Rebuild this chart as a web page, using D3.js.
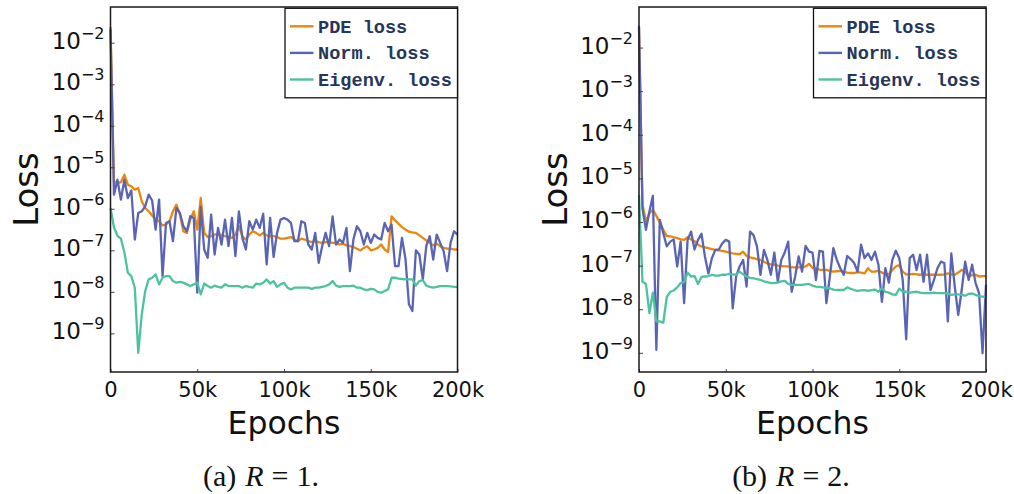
<!DOCTYPE html>
<html>
<head>
<meta charset="utf-8">
<script src="https://cdn.jsdelivr.net/npm/d3@7"></script>
<style>
  html, body { margin: 0; padding: 0; background: #fff; }
  svg { display: block; }
</style>
</head>
<body>
<svg id="chart" width="1014" height="494"></svg>
<script>
// Training epochs at which the losses were logged
const epochs = d3.range(0, 200001, 2000);

// log10 of each loss, run (a) R = 1
const pdeLogA = [
  -1.62, -5.35, -5.38, -5.36, -5.18, -5.42, -5.46, -5.54, -5.50, -5.82,
  -5.98, -6.06, -6.16, -6.26, -6.30, -6.40, -6.38, -6.30, -6.06, -5.90,
  -6.14, -6.54, -6.58, -6.26, -6.06, -6.50, -5.74, -6.58, -6.68, -6.66,
  -6.62, -6.60, -6.64, -6.66, -6.68, -6.70, -6.62, -6.42, -6.66, -6.74,
  -6.62, -6.54, -6.58, -6.64, -6.58, -6.64, -6.66, -6.66, -6.68, -6.72,
  -6.72, -6.70, -6.68, -6.74, -6.78, -6.72, -6.74, -6.78, -6.80, -6.78,
  -6.80, -6.82, -6.80, -6.80, -6.82, -6.82, -6.86, -6.84, -6.88, -6.90,
  -6.92, -6.96, -7.00, -6.94, -6.90, -7.00, -6.98, -6.94, -6.86, -6.98,
  -7.04, -6.18, -6.28, -6.36, -6.44, -6.50, -6.55, -6.57, -6.58, -6.64,
  -6.70, -6.76, -6.82, -6.88, -6.84, -6.90, -6.94, -6.96, -6.96, -6.98,
  -6.98
];
const normLogA = [
  -1.68, -5.66, -5.30, -5.78, -5.30, -5.74, -5.56, -6.74, -6.10, -6.06,
  -5.94, -5.66, -5.80, -6.50, -5.78, -7.62, -6.34, -6.30, -6.78, -5.98,
  -6.10, -6.42, -6.54, -6.18, -6.22, -8.02, -5.95, -6.98, -7.18, -6.14,
  -7.10, -6.46, -6.86, -6.26, -6.90, -6.22, -7.14, -6.06, -6.70, -6.98,
  -6.30, -6.50, -6.26, -6.46, -6.12, -7.34, -6.22, -7.16, -6.58, -6.26,
  -6.22, -6.26, -6.34, -6.78, -6.78, -6.30, -6.34, -6.86, -6.98, -6.58,
  -7.30, -6.90, -6.58, -6.90, -6.18, -6.86, -6.74, -6.82, -6.46, -7.50,
  -6.74, -6.42, -6.54, -6.86, -6.58, -6.82, -6.62, -6.70, -6.74, -6.34,
  -6.54, -6.38, -7.38, -7.38, -6.70, -7.20, -8.30, -8.46, -7.00, -7.10,
  -7.70, -6.90, -6.66, -7.22, -6.62, -6.82, -7.02, -7.50, -6.82, -6.54,
  -6.62
];
const eigLogA = [
  -5.98, -6.45, -6.65, -6.72, -7.05, -7.54, -7.62, -7.90, -9.47, -8.55,
  -7.98, -7.70, -7.66, -7.58, -7.82, -7.66, -7.62, -7.62, -7.74, -7.78,
  -7.76, -7.78, -7.82, -7.86, -7.82, -7.78, -8.06, -7.80, -7.86, -7.90,
  -7.85, -7.88, -7.90, -7.82, -7.86, -7.86, -7.86, -7.86, -7.90, -7.86,
  -7.88, -7.90, -7.80, -7.82, -7.78, -7.70, -7.80, -7.74, -7.88, -7.82,
  -7.78, -7.90, -7.94, -7.90, -7.90, -7.90, -7.90, -7.90, -7.93, -7.90,
  -7.90, -7.88, -7.86, -7.82, -7.74, -7.85, -7.88, -7.86, -7.86, -7.86,
  -7.85, -7.90, -7.90, -7.94, -7.96, -7.93, -7.94, -8.00, -8.02, -7.98,
  -7.94, -7.66, -7.66, -7.68, -7.69, -7.70, -7.70, -7.70, -7.85, -7.74,
  -7.72, -7.85, -7.88, -7.90, -7.88, -7.86, -7.86, -7.86, -7.87, -7.88,
  -7.88
];

// log10 of each loss, run (b) R = 2
const pdeLogB = [
  -1.55, -5.60, -5.99, -5.80, -5.72, -5.86, -6.02, -6.18, -6.32, -6.33,
  -6.35, -6.37, -6.40, -6.41, -6.35, -6.40, -6.44, -6.52, -6.56, -6.58,
  -6.60, -6.62, -6.64, -6.65, -6.66, -6.68, -6.70, -6.72, -6.73, -6.74,
  -6.68, -6.78, -6.81, -6.83, -6.85, -6.87, -6.91, -6.95, -6.97, -6.98,
  -7.00, -7.01, -7.02, -7.02, -7.04, -7.04, -7.04, -7.04, -7.02, -6.96,
  -7.05, -7.07, -7.09, -7.10, -7.10, -7.12, -7.14, -7.13, -7.12, -7.14,
  -7.16, -7.17, -7.17, -7.15, -7.16, -7.18, -7.06, -7.14, -7.14, -7.12,
  -7.16, -7.20, -7.20, -7.10, -7.02, -6.99, -7.14, -7.20, -7.20, -7.19,
  -7.20, -7.21, -7.20, -7.21, -7.21, -7.21, -7.21, -7.21, -7.20, -7.18,
  -7.20, -7.21, -7.16, -7.10, -7.14, -7.25, -7.22, -7.21, -7.25, -7.24,
  -7.24
];
const normLogB = [
  -1.50, -5.70, -6.18, -5.76, -5.40, -8.93, -5.95, -6.26, -6.56, -6.45,
  -6.40, -7.02, -6.45, -7.86, -6.41, -6.22, -6.63, -6.41, -6.27, -6.79,
  -7.18, -6.83, -6.64, -6.63, -6.49, -6.41, -6.45, -7.98, -7.25, -7.02,
  -6.87, -7.48, -6.22, -6.30, -6.56, -7.21, -6.64, -6.87, -7.21, -6.70,
  -7.37, -6.87, -6.70, -6.45, -7.60, -7.25, -6.79, -7.14, -6.55, -6.68,
  -6.70, -7.33, -6.66, -6.68, -7.86, -7.25, -6.60, -6.87, -7.06, -7.21,
  -6.78, -6.85, -6.94, -7.14, -6.52, -6.83, -6.72, -6.87, -6.68, -6.98,
  -7.83, -7.06, -7.39, -6.87, -6.66, -6.83, -7.33, -8.69, -6.83, -6.75,
  -7.10, -6.75, -7.37, -6.75, -7.56, -7.33, -7.06, -6.91, -6.94, -8.28,
  -6.72, -7.48, -8.13, -7.56, -6.91, -7.33, -6.98, -7.40, -7.63, -9.01,
  -7.44
];
const eigLogB = [
  -5.38, -7.37, -7.42, -8.09, -7.62, -8.28, -8.28, -8.31, -7.72, -7.60,
  -7.57, -7.50, -7.40, -7.38, -7.16, -7.25, -7.24, -7.42, -7.26, -7.25,
  -7.24, -7.21, -7.23, -7.23, -7.21, -7.21, -7.19, -7.20, -7.21, -7.14,
  -7.20, -7.25, -7.28, -7.29, -7.31, -7.33, -7.36, -7.38, -7.40, -7.40,
  -7.39, -7.36, -7.35, -7.42, -7.44, -7.44, -7.44, -7.44, -7.43, -7.42,
  -7.46, -7.48, -7.49, -7.50, -7.51, -7.52, -7.55, -7.56, -7.56, -7.56,
  -7.50, -7.53, -7.56, -7.58, -7.57, -7.56, -7.58, -7.56, -7.55, -7.60,
  -7.52, -7.60, -7.62, -7.66, -7.67, -7.53, -7.60, -7.60, -7.62, -7.61,
  -7.60, -7.62, -7.63, -7.63, -7.63, -7.62, -7.63, -7.63, -7.63, -7.64,
  -7.67, -7.66, -7.66, -7.67, -7.69, -7.65, -7.64, -7.67, -7.70, -7.71,
  -7.72
];

// Axis ticks and legend text
const yTickExponents = [-2, -3, -4, -5, -6, -7, -8, -9];
const xTickValues = [0, 50000, 100000, 150000, 200000];
const xTickLabels = ["0", "50k", "100k", "150k", "200k"];
const seriesNames = ["PDE loss", "Norm. loss", "Eigenv. loss"];
const seriesColors = ["#ea870a", "#5a64b4", "#4dc29f"];

const panels = [
  { left: 110.5, right: 457.5, top: 7, bottom: 372, logLo: -9.93, logHi: -1.14,
    logs: [pdeLogA, normLogA, eigLogA], tag: "(a)", rValue: "1", lossX: 38, captionX: 261 },
  { left: 639, right: 986, top: 7, bottom: 372, logLo: -9.44, logHi: -1.07,
    logs: [pdeLogB, normLogB, eigLogB], tag: "(b)", rValue: "2", lossX: 567, captionX: 791 }
];

const svg = d3.select("#chart");
svg.append("rect").attr("width", 1014).attr("height", 494).attr("fill", "#fff");

const axisFont = "'DejaVu Sans', Verdana, sans-serif";

panels.forEach(p => {
  const x = d3.scaleLinear().domain([0, 200000]).range([p.left, p.right]);
  const y = d3.scaleLog().domain([10 ** p.logLo, 10 ** p.logHi]).range([p.bottom, p.top]);
  const g = svg.append("g");

  // loss curves
  const line = d3.line()
    .x((d, i) => x(epochs[i]))
    .y(d => y(10 ** d));
  p.logs.forEach((vals, k) => {
    g.append("path")
      .datum(vals)
      .attr("d", line)
      .attr("fill", "none")
      .attr("stroke", seriesColors[k])
      .attr("stroke-width", 2.3)
      .attr("stroke-linejoin", "round");
  });

  // left axis: decade ticks with 10^n labels
  const yAxis = d3.axisLeft(y)
    .tickValues(yTickExponents.map(e => 10 ** e))
    .tickSizeInner(-4).tickSizeOuter(0).tickPadding(6);
  const ya = g.append("g").attr("transform", `translate(${p.left},0)`).call(yAxis);
  ya.select(".domain").remove();
  ya.selectAll(".tick line").attr("stroke", "#444").attr("stroke-width", 1);
  ya.selectAll(".tick text")
    .attr("font-family", axisFont).attr("font-size", 23).attr("fill", "#111")
    .attr("dy", "0.24em")
    .each(function(d, i) {
      const t = d3.select(this);
      t.text(null);
      t.append("tspan").text("10");
      t.append("tspan").attr("dy", -10).attr("font-size", 16)
        .text("\u2212" + (-yTickExponents[i]));
    });

  // bottom axis
  const xAxis = d3.axisBottom(x)
    .tickValues(xTickValues)
    .tickFormat((d, i) => xTickLabels[i])
    .tickSizeInner(-3).tickSizeOuter(0).tickPadding(10);
  const xa = g.append("g").attr("transform", `translate(0,${p.bottom})`).call(xAxis);
  xa.select(".domain").remove();
  xa.selectAll(".tick line").attr("stroke", "#444").attr("stroke-width", 1);
  xa.selectAll(".tick text")
    .attr("font-family", axisFont).attr("font-size", 21).attr("fill", "#111");

  // frame
  g.append("rect")
    .attr("x", p.left).attr("y", p.top)
    .attr("width", p.right - p.left).attr("height", p.bottom - p.top)
    .attr("fill", "none").attr("stroke", "#1a1a1a").attr("stroke-width", 1.5);

  // axis titles
  g.append("text")
    .attr("transform", `translate(${p.lossX},${(p.top + p.bottom) / 2}) rotate(-90)`)
    .attr("text-anchor", "middle")
    .attr("font-family", axisFont).attr("font-size", 34).attr("fill", "#111")
    .text("Loss");
  g.append("text")
    .attr("x", (p.left + p.right) / 2).attr("y", 434)
    .attr("text-anchor", "middle")
    .attr("font-family", axisFont).attr("font-size", 31.5).attr("fill", "#111")
    .text("Epochs");

  // legend
  const lw = 172.5, lh = 89.5;
  const lg = g.append("g").attr("transform", `translate(${p.right - lw},${p.top + 1.3})`);
  lg.append("rect").attr("width", lw).attr("height", lh)
    .attr("fill", "#fff").attr("stroke", "#111").attr("stroke-width", 1.3);
  seriesNames.forEach((name, k) => {
    const ly = 18 + k * 26.6;
    lg.append("line")
      .attr("x1", 5).attr("x2", 28.5).attr("y1", ly).attr("y2", ly)
      .attr("stroke", seriesColors[k]).attr("stroke-width", 2.4);
    lg.append("text")
      .attr("x", 33).attr("y", ly + 6.5)
      .attr("font-family", "'Liberation Mono', 'Courier New', monospace")
      .attr("font-weight", "bold").attr("font-size", 18.6)
      .attr("fill", "#26365a")
      .text(name);
  });

  // caption
  const cap = g.append("text")
    .attr("x", p.captionX).attr("y", 486)
    .attr("text-anchor", "middle")
    .attr("font-family", "'Liberation Serif', 'DejaVu Serif', serif")
    .attr("font-size", 30).attr("fill", "#111");
  cap.append("tspan").text(p.tag);
  cap.append("tspan").attr("dx", 9).attr("font-style", "italic").text("R");
  cap.append("tspan").attr("dx", 8).text("=");
  cap.append("tspan").attr("dx", 8).text(p.rValue + ".");
});
</script>
</body>
</html>
